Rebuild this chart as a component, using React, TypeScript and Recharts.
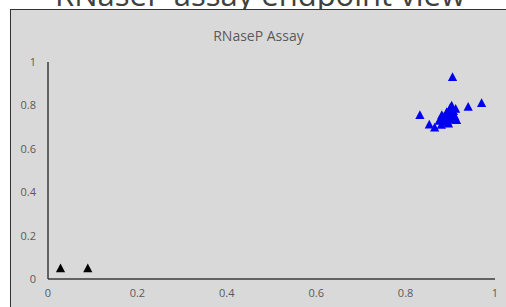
import { ScatterChart, Scatter, XAxis, YAxis } from 'recharts';

const xTicks = [0, 0.2, 0.4, 0.6, 0.8, 1];
const yTicks = [0, 0.2, 0.4, 0.6, 0.8, 1];

const sampleX = [
  0.905, 0.832, 0.853, 0.865, 0.94, 0.97, 0.903, 0.914, 0.881, 0.888, 0.896, 0.9,
  0.907, 0.895, 0.885, 0.91, 0.898, 0.892, 0.905, 0.875, 0.912, 0.88, 0.901,
  0.893, 0.886, 0.908, 0.899,
];
const sampleY = [
  0.932, 0.756, 0.713, 0.699, 0.794, 0.812, 0.8, 0.733, 0.756, 0.725, 0.717, 0.79,
  0.775, 0.76, 0.74, 0.75, 0.745, 0.77, 0.765, 0.73, 0.785, 0.712, 0.735,
  0.728, 0.748, 0.758, 0.78,
];
const ntcX = [0.028, 0.089];
const ntcY = [0.05, 0.05];

const samples = sampleX.map((x, i) => ({ x, y: sampleY[i] }));
const ntc = ntcX.map((x, i) => ({ x, y: ntcY[i] }));

const font = '"Open Sans", sans-serif';
const tickStyle = { fill: '#595959', fontSize: 11, fontFamily: font };

// small filled triangle marker
const tri = (color: string) => (props: any) => {
  const { cx, cy } = props;
  if (cx == null || cy == null) return <g />;
  const h = 4.6;
  return (
    <polygon
      points={`${cx},${cy - h} ${cx + h},${cy + h * 0.9} ${cx - h},${cy + h * 0.9}`}
      fill={color}
    />
  );
};

export default function App() {
  return (
    <div
      style={{
        position: 'absolute',
        left: 0,
        top: 0,
        width: 506,
        height: 307,
        overflow: 'hidden',
        background: '#fff',
      }}
    >
      <div
        style={{
          position: 'absolute',
          left: 0,
          width: 506,
          top: -26,
          textAlign: 'center',
          fontFamily: font,
          fontSize: 31,
          lineHeight: '40px',
          color: '#404040',
          paddingLeft: 14,
          boxSizing: 'border-box',
          whiteSpace: 'nowrap',
        }}
      >
        RNaseP assay endpoint view
      </div>
      <div
        style={{
          position: 'absolute',
          left: 10,
          top: 9,
          width: 600,
          height: 400,
          border: '1.5px solid #333',
          background: '#d9d9d9',
        }}
      />
      <div
        style={{
          position: 'absolute',
          left: 11,
          top: 26,
          width: 495,
          textAlign: 'center',
          fontFamily: font,
          fontSize: 14,
          color: '#595959',
        }}
      >
        RNaseP Assay
      </div>
      <div style={{ position: 'absolute', left: 11, top: 10 }}>
        <ScatterChart
          width={495}
          height={297}
          margin={{ top: 52, right: 11, left: 0, bottom: 0 }}
        >
          <XAxis
            type="number"
            dataKey="x"
            domain={[0, 1]}
            ticks={xTicks}
            height={28}
            axisLine={{ stroke: '#3a3a3a', strokeWidth: 1.5 }}
            tickLine={false}
            tickSize={0}
            tickMargin={10}
            tick={tickStyle}
          />
          <YAxis
            type="number"
            dataKey="y"
            domain={[0, 1]}
            ticks={yTicks}
            width={37}
            axisLine={{ stroke: '#3a3a3a', strokeWidth: 1.5 }}
            tickLine={false}
            tickSize={0}
            tickMargin={12}
            tick={tickStyle}
          />
          <Scatter
            data={samples}
            fill="#0000f0"
            shape={tri('#0000f0')}
            isAnimationActive={false}
          />
          <Scatter
            data={ntc}
            fill="#000"
            shape={tri('#000')}
            isAnimationActive={false}
          />
        </ScatterChart>
      </div>
    </div>
  );
}
